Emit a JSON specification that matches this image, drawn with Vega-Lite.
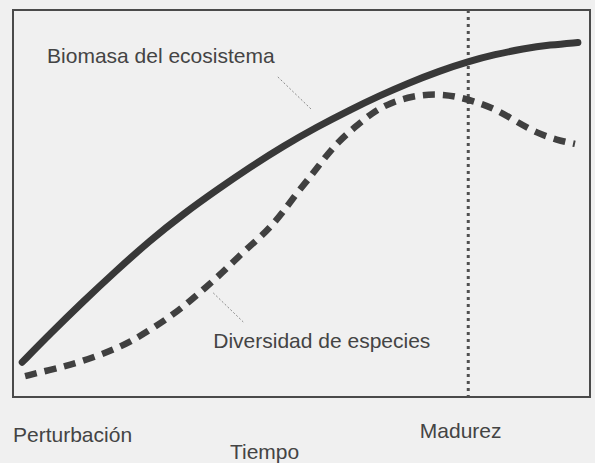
{
  "$schema": "https://vega.github.io/schema/vega-lite/v6.json",
  "width": 577,
  "height": 387,
  "autosize": {"type": "none"},
  "padding": {"left": 13, "top": 10, "right": 5, "bottom": 66},
  "background": "#f0f0f0",
  "config": {"view": {"stroke": "#4a4a4a", "strokeWidth": 2}, "font": "Liberation Sans"},
  "datasets": {
    "curves": [
      {"series": "Biomasa del ecosistema", "t": 1.6, "v": 9.0},
      {"series": "Biomasa del ecosistema", "t": 6.4, "v": 16.3},
      {"series": "Biomasa del ecosistema", "t": 12.1, "v": 24.6},
      {"series": "Biomasa del ecosistema", "t": 17.7, "v": 32.4},
      {"series": "Biomasa del ecosistema", "t": 23.7, "v": 40.4},
      {"series": "Biomasa del ecosistema", "t": 29.5, "v": 47.3},
      {"series": "Biomasa del ecosistema", "t": 35.4, "v": 53.6},
      {"series": "Biomasa del ecosistema", "t": 41.1, "v": 59.4},
      {"series": "Biomasa del ecosistema", "t": 46.8, "v": 64.8},
      {"series": "Biomasa del ecosistema", "t": 52.7, "v": 69.8},
      {"series": "Biomasa del ecosistema", "t": 58.4, "v": 74.2},
      {"series": "Biomasa del ecosistema", "t": 63.6, "v": 77.9},
      {"series": "Biomasa del ecosistema", "t": 68.3, "v": 81.0},
      {"series": "Biomasa del ecosistema", "t": 74.0, "v": 84.3},
      {"series": "Biomasa del ecosistema", "t": 78.9, "v": 86.7},
      {"series": "Biomasa del ecosistema", "t": 83.5, "v": 88.5},
      {"series": "Biomasa del ecosistema", "t": 88.4, "v": 90.0},
      {"series": "Biomasa del ecosistema", "t": 93.1, "v": 91.0},
      {"series": "Biomasa del ecosistema", "t": 97.9, "v": 91.6},
      {"series": "Diversidad de especies", "t": 2.1, "v": 5.4},
      {"series": "Diversidad de especies", "t": 6.4, "v": 7.0},
      {"series": "Diversidad de especies", "t": 9.9, "v": 8.3},
      {"series": "Diversidad de especies", "t": 13.7, "v": 10.1},
      {"series": "Diversidad de especies", "t": 17.2, "v": 12.1},
      {"series": "Diversidad de especies", "t": 20.3, "v": 14.2},
      {"series": "Diversidad de especies", "t": 23.7, "v": 17.3},
      {"series": "Diversidad de especies", "t": 27.2, "v": 20.7},
      {"series": "Diversidad de especies", "t": 30.3, "v": 24.3},
      {"series": "Diversidad de especies", "t": 33.3, "v": 28.2},
      {"series": "Diversidad de especies", "t": 36.2, "v": 32.0},
      {"series": "Diversidad de especies", "t": 39.0, "v": 36.2},
      {"series": "Diversidad de especies", "t": 42.3, "v": 40.6},
      {"series": "Diversidad de especies", "t": 44.5, "v": 43.7},
      {"series": "Diversidad de especies", "t": 46.8, "v": 47.8},
      {"series": "Diversidad de especies", "t": 49.2, "v": 52.7},
      {"series": "Diversidad de especies", "t": 51.8, "v": 57.4},
      {"series": "Diversidad de especies", "t": 53.7, "v": 61.2},
      {"series": "Diversidad de especies", "t": 56.3, "v": 65.9},
      {"series": "Diversidad de especies", "t": 59.3, "v": 69.8},
      {"series": "Diversidad de especies", "t": 62.2, "v": 73.4},
      {"series": "Diversidad de especies", "t": 65.3, "v": 76.0},
      {"series": "Diversidad de especies", "t": 69.3, "v": 77.8},
      {"series": "Diversidad de especies", "t": 73.1, "v": 78.3},
      {"series": "Diversidad de especies", "t": 76.6, "v": 77.8},
      {"series": "Diversidad de especies", "t": 80.4, "v": 76.2},
      {"series": "Diversidad de especies", "t": 83.9, "v": 74.2},
      {"series": "Diversidad de especies", "t": 87.3, "v": 71.1},
      {"series": "Diversidad de especies", "t": 90.8, "v": 68.2},
      {"series": "Diversidad de especies", "t": 94.3, "v": 66.4},
      {"series": "Diversidad de especies", "t": 97.4, "v": 65.4}
    ],
    "leaders": [
      {"t": 45.9, "v": 82.7, "t2": 51.8, "v2": 74.2},
      {"t": 34.7, "v": 26.9, "t2": 39.9, "v2": 19.4}
    ],
    "labels": [
      {"label": "Biomasa del ecosistema", "t": 5.9, "v": 86.3},
      {"label": "Diversidad de especies", "t": 34.7, "v": 12.7},
      {"label": "Perturbación", "t": 0.0, "v": -11.6},
      {"label": "Madurez", "t": 70.5, "v": -10.6},
      {"label": "Tiempo", "t": 37.6, "v": -16.0}
    ],
    "maturity": [{"t": 78.9}]
  },
  "layer": [
    {
      "data": {"name": "maturity"},
      "mark": {"type": "rule", "color": "#505050", "strokeWidth": 3, "strokeDash": [3, 4]},
      "encoding": {
        "x": {"field": "t", "type": "quantitative", "scale": {"domain": [0, 100]}, "axis": null}
      }
    },
    {
      "data": {"name": "leaders"},
      "mark": {"type": "rule", "color": "#8a8a8a", "strokeWidth": 1, "strokeDash": [2, 2]},
      "encoding": {
        "x": {"field": "t", "type": "quantitative", "scale": {"domain": [0, 100]}, "axis": null},
        "y": {"field": "v", "type": "quantitative", "scale": {"domain": [0, 100]}, "axis": null},
        "x2": {"field": "t2"},
        "y2": {"field": "v2"}
      }
    },
    {
      "data": {"name": "curves"},
      "transform": [{"filter": "datum.series === 'Biomasa del ecosistema'"}],
      "mark": {"type": "line", "color": "#383838", "strokeWidth": 7, "interpolate": "basis", "strokeCap": "round"},
      "encoding": {
        "x": {"field": "t", "type": "quantitative", "scale": {"domain": [0, 100]}, "axis": null},
        "y": {"field": "v", "type": "quantitative", "scale": {"domain": [0, 100]}, "axis": null}
      }
    },
    {
      "data": {"name": "curves"},
      "transform": [{"filter": "datum.series === 'Diversidad de especies'"}],
      "mark": {"type": "line", "color": "#404040", "strokeWidth": 6.5, "interpolate": "basis", "strokeDash": [12, 8], "strokeCap": "butt"},
      "encoding": {
        "x": {"field": "t", "type": "quantitative", "scale": {"domain": [0, 100]}, "axis": null},
        "y": {"field": "v", "type": "quantitative", "scale": {"domain": [0, 100]}, "axis": null}
      }
    },
    {
      "data": {"name": "labels"},
      "mark": {"type": "text", "align": "left", "baseline": "alphabetic", "fontSize": 21, "color": "#444444"},
      "encoding": {
        "x": {"field": "t", "type": "quantitative", "scale": {"domain": [0, 100]}, "axis": null},
        "y": {"field": "v", "type": "quantitative", "scale": {"domain": [0, 100]}, "axis": null},
        "text": {"field": "label"}
      }
    }
  ]
}
